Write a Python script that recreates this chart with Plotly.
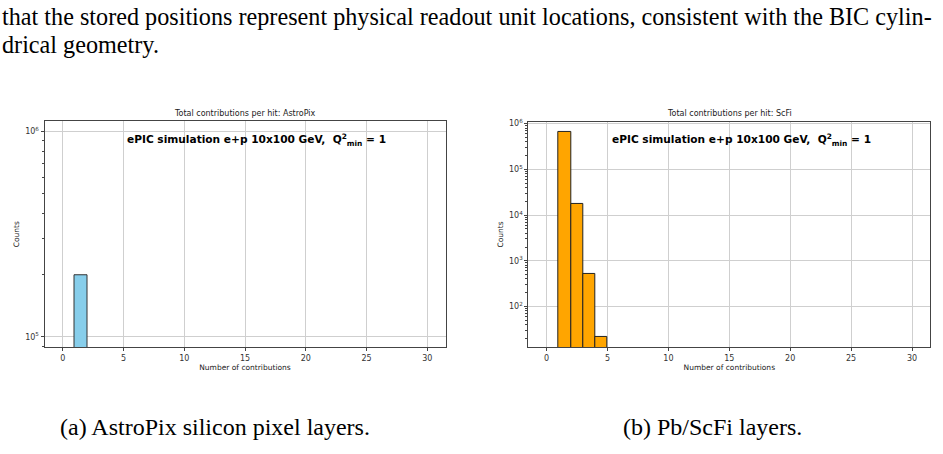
import plotly.graph_objects as go
import math

W, H = 943, 454

# ---- data ----
astro_bin_left = [1]
astro_counts = [2.0e5]
scfi_bin_left = [1, 2, 3, 4]
scfi_counts = [6.6e5, 1.79e4, 521, 22]
x_ticks = [0, 5, 10, 15, 20, 25, 30]
astro_yticks = [1e5, 1e6]
scfi_yticks = [1e2, 1e3, 1e4, 1e5, 1e6]

title_a = "Total contributions per hit: AstroPix"
title_b = "Total contributions per hit: ScFi"
stamp = "ePIC simulation e+p 10x100 GeV,  Q<sup>2</sup><sub>min</sub> = 1"
para1 = "that the stored positions represent physical readout unit locations, consistent with the BIC cylin-"
para2 = "drical geometry."
cap_a = "(a) AstroPix silicon pixel layers."
cap_b = "(b) Pb/ScFi layers."


def px(x):
    return x / W


def py(y):
    return 1 - y / H


def sup_label(v):
    return "10<sup>%d</sup>" % round(math.log10(v))


def minor_vals(lo, hi):
    out = []
    d = 1
    while d < hi:
        for m in range(2, 10):
            v = m * d
            if lo <= v <= hi:
                out.append(v)
        d *= 10
    return out


fig = go.Figure()
fig.add_trace(go.Bar(
    x=[b + 0.5 for b in astro_bin_left], y=astro_counts, width=1,
    marker=dict(color="#87CEEB", line=dict(color="#333333", width=1)),
    xaxis="x", yaxis="y", showlegend=False))
fig.add_trace(go.Bar(
    x=[b + 0.5 for b in scfi_bin_left], y=scfi_counts, width=1,
    marker=dict(color="#FFA500", line=dict(color="#222222", width=1)),
    xaxis="x2", yaxis="y2", showlegend=False))

tickfont = dict(family="DejaVu Sans", size=8, color="#333333")
labfont = dict(family="DejaVu Sans", size=7.5, color="#222222")
common_x = dict(range=[-1.5, 31.5], tickmode="array", tickvals=x_ticks,
                ticktext=[str(t) for t in x_ticks], showgrid=True,
                gridcolor="#cfcfcf", gridwidth=1, zeroline=False,
                showline=True, mirror=True, linecolor="#444444", linewidth=1,
                ticks="outside", ticklen=3, tickcolor="#444444", tickfont=tickfont,
                title=dict(text="Number of contributions", font=labfont, standoff=1))
common_y = dict(type="log", showgrid=True, gridcolor="#cfcfcf", gridwidth=1,
                zeroline=False, showline=True, mirror=True, linecolor="#444444",
                linewidth=1, ticks="outside", ticklen=3, tickcolor="#444444",
                tickfont=tickfont,
                title=dict(text="Counts", font=labfont, standoff=4))

fig.update_layout(
    width=W, height=H, margin=dict(l=0, r=0, t=0, b=0),
    paper_bgcolor="white", plot_bgcolor="white", bargap=0,
    xaxis=dict(domain=[px(44.5), px(445.5)], anchor="y", **common_x),
    yaxis=dict(domain=[py(346), py(118.3)], anchor="x", range=[4.95, 6.05],
               tickmode="array", tickvals=astro_yticks,
               ticktext=[sup_label(v) for v in astro_yticks],
               minor=dict(tickmode="array", tickvals=minor_vals(8.9e4, 1.12e6),
                          ticks="outside", ticklen=2, tickcolor="#444444", showgrid=False),
               **common_y),
    xaxis2=dict(domain=[px(528.3), px(930.3)], anchor="y2", **common_x),
    yaxis2=dict(domain=[py(346), py(119)], anchor="x2", range=[1.115, 6.037],
                tickmode="array", tickvals=scfi_yticks,
                ticktext=[sup_label(v) for v in scfi_yticks],
                minor=dict(tickmode="array", tickvals=minor_vals(13, 1.09e6),
                           ticks="outside", ticklen=2, tickcolor="#444444", showgrid=False),
                **common_y),
)


def note(text, x, y, size, family, xanchor="center", color="black"):
    return dict(text=text, x=px(x), y=py(y), xref="paper", yref="paper",
                xanchor=xanchor, yanchor="middle", showarrow=False,
                font=dict(family=family, size=size, color=color))


serif = "Liberation Serif"
ann = [
    note(title_a, 245, 110.5, 8, "DejaVu Sans", color="#222"),
    note(title_b, 729.5, 110.5, 8, "DejaVu Sans", color="#222"),
    note("<b>" + stamp + "</b>", 125, 137, 10.6, "DejaVu Sans", xanchor="left"),
    note("<b>" + stamp + "</b>", 610, 137, 10.6, "DejaVu Sans", xanchor="left"),
    note(para1, 0, 13, 24.2, serif, xanchor="left"),
    note(para2, 0, 41, 24.2, serif, xanchor="left"),
    note(cap_a, 215, 427, 24, serif),
    note(cap_b, 712, 427, 24, serif),
]
fig.update_layout(annotations=ann)

fig.write_html("out.html")
